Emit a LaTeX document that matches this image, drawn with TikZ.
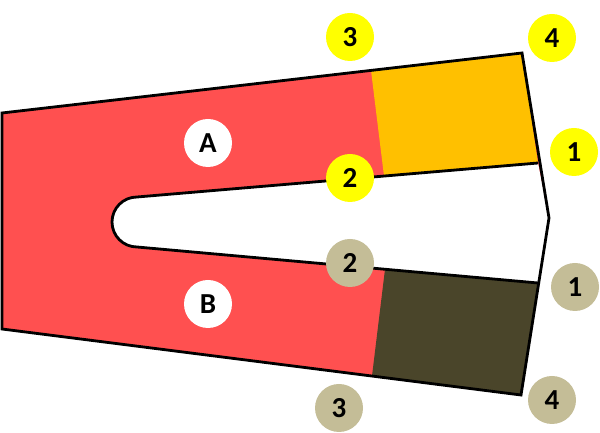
\documentclass[tikz,border=0pt]{standalone}
\usepackage{fontspec}
\setmainfont{Carlito}
\usepackage{tikz}
\usetikzlibrary{calc}
\definecolor{shim}{HTML}{FF5050}
\definecolor{gold}{HTML}{FFC000}
\definecolor{olive}{HTML}{4A452A}
\definecolor{tan}{HTML}{C4BD97}
\definecolor{yel}{HTML}{FFFF00}

\begin{document}
\begin{tikzpicture}[x=1pt,y=1pt,
  numark/.style={circle,minimum size=48pt,inner sep=0pt,font=\fontsize{29}{34}\selectfont\bfseries},
  ymark/.style={numark,fill=yel},tmark/.style={numark,fill=tan},wmark/.style={numark,fill=white}]
\useasboundingbox (0,0) rectangle (600,433);
% outer plate and slot
\coordinate (tl) at (2,320);\coordinate (tr) at (522,380);\coordinate (tip) at (549,215);
\coordinate (br) at (521,38);\coordinate (bl) at (2,104);
\coordinate (si) at (538,270);\coordinate (so) at (538,150);
\fill[shim] (tl)--(tr)--(tip)--(br)--(bl)--cycle;
\fill[gold] (371,362.6)--(tr)--(si)--(384,257)--cycle;
\fill[olive] (385,163.7)--(so)--(br)--(372,57)--cycle;
\fill[white] (si)--(137,236) arc[start angle=90,end angle=270,radius=25]--(so)--(tip)--cycle;
\draw[line width=2.8pt,line join=miter] (tl)--(tr)--(tip)--(br)--(bl)--cycle;
\draw[line width=2.8pt] (si)--(137,236) arc[start angle=90,end angle=270,radius=25]--(so);
% labels
\node[wmark] (A) at (208,290){A};
\node[wmark] (B) at (208,129){B};
\node[ymark] (y3) at (350,396){3};\node[ymark] (y4) at (552,395){4};
\node[ymark] (y1) at (574,281){1};\node[ymark] (y2) at (350,255){2};
\node[tmark] (t2) at (350,170){2};\node[tmark] (t1) at (575,146){1};
\node[tmark] (t4) at (552,33){4};\node[tmark] (t3) at (339,25){3};
\end{tikzpicture}
\end{document}
